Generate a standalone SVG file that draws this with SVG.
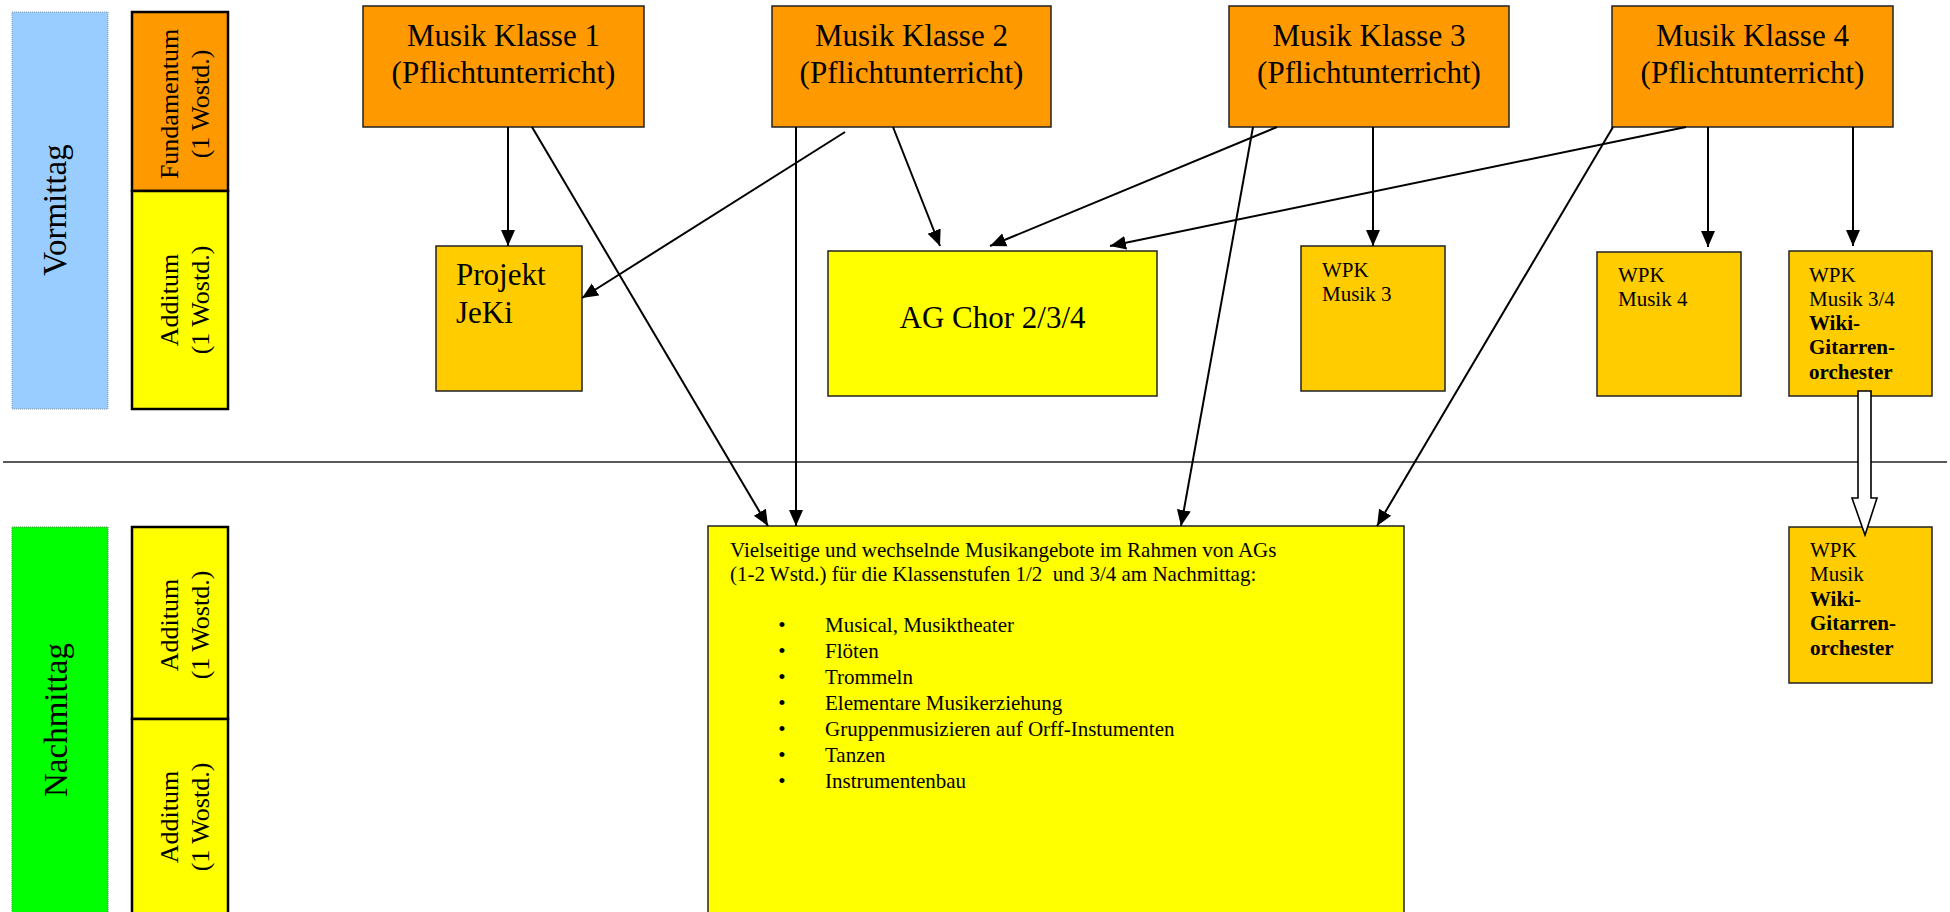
<svg xmlns="http://www.w3.org/2000/svg" width="1950" height="912" viewBox="0 0 1950 912">
<style>
text{font-family:"Liberation Serif","Times New Roman",serif;fill:#000}
.side{stroke-width:1;stroke-dasharray:1 1}
.band{stroke:#000;stroke-width:2.5}
.box{stroke:#222;stroke-width:1.5}
.orange{fill:#FF9900}
.yellow{fill:#FFFF00}
.gold{fill:#FFCC00}
.k{font-size:31px}
.v{font-size:26px}
.w{font-size:21px}
.b{font-weight:bold}
.conn line{stroke:#000;stroke-width:2;marker-end:url(#ah)}
</style>
<defs>
<marker id="ah" viewBox="0 0 16 16" refX="16" refY="8" markerWidth="16" markerHeight="16" orient="auto" markerUnits="userSpaceOnUse">
<path d="M0,1 L16,8 L0,15 z" fill="#000"/>
</marker>
</defs>
<rect width="1950" height="912" fill="#fff"/>

<g id="vormittag">
<rect x="12" y="12" width="96" height="397" fill="#99CCFF" stroke="#7f97b3" class="side"/>
<text transform="translate(66,210) rotate(-90)" text-anchor="middle" font-size="33">Vormittag</text>
</g>
<g id="fundamentum">
<rect x="132" y="12" width="96" height="179" class="band orange"/>
<g transform="translate(0,104) rotate(-90)" text-anchor="middle" class="v"><text x="0" y="178">Fundamentum</text><text x="0" y="209">(1 Wostd.)</text></g>
</g>
<g id="additum-vm">
<rect x="132" y="191" width="96" height="218" class="band yellow"/>
<g transform="translate(0,300) rotate(-90)" text-anchor="middle" class="v"><text x="0" y="178">Additum</text><text x="0" y="209">(1 Wostd.)</text></g>
</g>

<g id="separator">
<line x1="3" y1="462" x2="1947" y2="462" stroke="#222" stroke-width="1.6"/>
</g>

<g id="nachmittag">
<rect x="12" y="527" width="96" height="400" fill="#00FF00" stroke="#3a9a3a" class="side"/>
<text transform="translate(67,720) rotate(-90)" text-anchor="middle" font-size="33">Nachmittag</text>
</g>
<g id="additum-nm1">
<rect x="132" y="527" width="96" height="192" class="band yellow"/>
<g transform="translate(0,625) rotate(-90)" text-anchor="middle" class="v"><text x="0" y="178">Additum</text><text x="0" y="209">(1 Wostd.)</text></g>
</g>
<g id="additum-nm2">
<rect x="132" y="719" width="96" height="210" class="band yellow"/>
<g transform="translate(0,817) rotate(-90)" text-anchor="middle" class="v"><text x="0" y="178">Additum</text><text x="0" y="209">(1 Wostd.)</text></g>
</g>

<g id="klasse1">
<rect x="363" y="6" width="281" height="121" class="box orange"/>
<text x="503.5" y="46" text-anchor="middle" class="k">Musik Klasse 1</text>
<text x="503.5" y="83" text-anchor="middle" class="k">(Pflichtunterricht)</text>
</g>
<g id="klasse2">
<rect x="772" y="6" width="279" height="121" class="box orange"/>
<text x="911.5" y="46" text-anchor="middle" class="k">Musik Klasse 2</text>
<text x="911.5" y="83" text-anchor="middle" class="k">(Pflichtunterricht)</text>
</g>
<g id="klasse3">
<rect x="1229" y="6" width="280" height="121" class="box orange"/>
<text x="1369" y="46" text-anchor="middle" class="k">Musik Klasse 3</text>
<text x="1369" y="83" text-anchor="middle" class="k">(Pflichtunterricht)</text>
</g>
<g id="klasse4">
<rect x="1612" y="6" width="281" height="121" class="box orange"/>
<text x="1752.5" y="46" text-anchor="middle" class="k">Musik Klasse 4</text>
<text x="1752.5" y="83" text-anchor="middle" class="k">(Pflichtunterricht)</text>
</g>

<g id="jeki">
<rect x="436" y="246" width="146" height="145" class="box gold"/>
<text x="456" y="285" class="k">Projekt</text>
<text x="456" y="323" class="k">JeKi</text>
</g>
<g id="agchor">
<rect x="828" y="251" width="329" height="145" class="box yellow"/>
<text x="992.5" y="328" text-anchor="middle" class="k">AG Chor 2/3/4</text>
</g>
<g id="wpk3">
<rect x="1301" y="246" width="144" height="145" class="box gold"/>
<text x="1322" y="277" class="w">WPK</text>
<text x="1322" y="301" class="w">Musik 3</text>
</g>
<g id="wpk4">
<rect x="1597" y="252" width="144" height="144" class="box gold"/>
<text x="1618" y="282" class="w">WPK</text>
<text x="1618" y="306" class="w">Musik 4</text>
</g>
<g id="wpk34">
<rect x="1789" y="251" width="143" height="145" class="box gold"/>
<text x="1809" y="282" class="w">WPK</text>
<text x="1809" y="306" class="w">Musik 3/4</text>
<text x="1809" y="330" class="w b">Wiki-</text>
<text x="1809" y="354" class="w b">Gitarren-</text>
<text x="1809" y="379" class="w b">orchester</text>
</g>
<g id="wpk-nm">
<rect x="1789" y="527" width="143" height="156" class="box gold"/>
<text x="1810" y="557" class="w">WPK</text>
<text x="1810" y="581" class="w">Musik</text>
<text x="1810" y="606" class="w b">Wiki-</text>
<text x="1810" y="630" class="w b">Gitarren-</text>
<text x="1810" y="655" class="w b">orchester</text>
</g>

<g id="ag-nachmittag">
<rect x="708" y="526" width="696" height="400" class="box yellow" stroke-width="2"/>
<text x="730" y="557" class="w">Vielseitige und wechselnde Musikangebote im Rahmen von AGs</text>
<text x="730" y="581" class="w" style="white-space:pre">(1-2 Wstd.) für die Klassenstufen 1/2  und 3/4 am Nachmittag:</text>
<g class="w" text-anchor="middle">
<text x="782" y="632">•</text><text x="782" y="658">•</text><text x="782" y="684">•</text><text x="782" y="710">•</text><text x="782" y="736">•</text><text x="782" y="762">•</text><text x="782" y="788">•</text>
</g>
<g class="w">
<text x="825" y="632">Musical, Musiktheater</text>
<text x="825" y="658">Flöten</text>
<text x="825" y="684">Trommeln</text>
<text x="825" y="710">Elementare Musikerziehung</text>
<text x="825" y="736">Gruppenmusizieren auf Orff-Instumenten</text>
<text x="825" y="762">Tanzen</text>
<text x="825" y="788">Instrumentenbau</text>
</g>
</g>

<g id="connectors" class="conn">
<line x1="508" y1="127" x2="508" y2="246"/>
<line x1="532" y1="127" x2="768" y2="526"/>
<line x1="796" y1="127" x2="796" y2="526"/>
<line x1="845" y1="132" x2="582" y2="298"/>
<line x1="893" y1="127" x2="940" y2="246"/>
<line x1="1277" y1="127" x2="990" y2="246"/>
<line x1="1373" y1="127" x2="1373" y2="246"/>
<line x1="1253" y1="127" x2="1181" y2="526"/>
<line x1="1686" y1="127" x2="1110" y2="246"/>
<line x1="1613" y1="127" x2="1377" y2="526"/>
<line x1="1708" y1="127" x2="1708" y2="247"/>
<line x1="1853" y1="127" x2="1853" y2="246"/>
<path d="M1858,391 L1871,391 L1871,498 L1877,498 L1865,535 L1852,498 L1858,498 Z" fill="#fff" stroke="#000" stroke-width="1.6"/>
</g>
</svg>
